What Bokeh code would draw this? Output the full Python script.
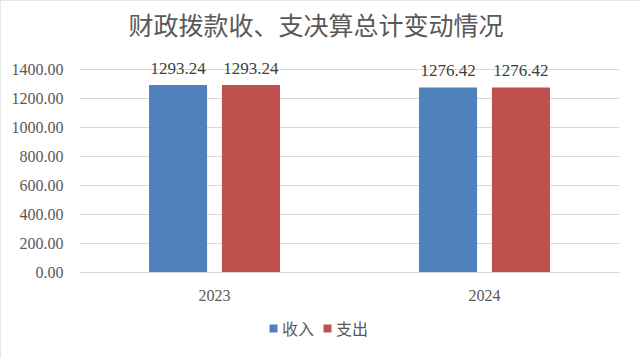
from bokeh.plotting import figure
from bokeh.models import ColumnDataSource, FactorRange, Range1d, NumeralTickFormatter, Legend, LegendItem, LabelSet, Title
from bokeh.transform import dodge
from bokeh.embed import file_html
from bokeh.resources import INLINE

years = ["2023", "2024"]
income = [1293.24, 1276.42]
expense = [1293.24, 1276.42]
series_names = ["收入", "支出"]
y_ticks = [0, 200, 400, 600, 800, 1000, 1200, 1400]

SERIF = "'Liberation Serif', 'Times New Roman', serif"
SANS = "'Noto Sans CJK SC', sans-serif"

src = ColumnDataSource(dict(
    x=years, inc=income, exp=expense,
    inc_lbl=["%.2f" % v for v in income],
    exp_lbl=["%.2f" % v for v in expense],
))

# 0 at y=272, 1400 at y=69 -> 0.145 px/unit; frame spans y=40..350 so labels/legend fit
p = figure(width=640, height=358, x_range=FactorRange(*years, range_padding=0),
           y_range=Range1d(-538, 1600), output_backend="svg", toolbar_location=None,
           min_border_left=79, min_border_right=21, min_border_top=40, min_border_bottom=8,
           background_fill_color="white", border_fill_color="white",
           outline_line_color=None)
p.styles = {"outline": "2px solid #dedede", "outline-offset": "-2px"}

p.title = Title(text="财政拨款收、支决算总计变动情况", align="left",
                text_font=SANS, text_font_size="25px",
                text_font_style="normal", text_color="#595959", offset=49, standoff=-3)

r1 = p.vbar(x=dodge("x", -0.135, range=p.x_range), top="inc", width=0.215, source=src,
            fill_color="#4F81BD", line_color=None)
r2 = p.vbar(x=dodge("x", 0.135, range=p.x_range), top="exp", width=0.215, source=src,
            fill_color="#C0504D", line_color=None)

for col, off in (("inc", -0.135), ("exp", 0.135)):
    p.add_layout(LabelSet(x=dodge("x", off, range=p.x_range), y=col, text=col + "_lbl",
                          source=src, text_align="center", y_offset=11,
                          text_font=SERIF, text_font_size="17px",
                          text_color="#404040"))

p.yaxis.ticker = y_ticks
p.yaxis.formatter = NumeralTickFormatter(format="0.00")
p.yaxis.axis_line_color = None
p.yaxis.major_tick_line_color = None
p.yaxis.minor_tick_line_color = None
p.yaxis.major_label_text_font = SERIF
p.yaxis.major_label_text_font_size = "16px"
p.yaxis.major_label_text_color = "#595959"
p.yaxis.major_label_standoff = 10

p.xaxis.fixed_location = 0
p.xaxis.axis_line_color = "#d9d9d9"
p.xaxis.major_tick_line_color = None
p.xaxis.minor_tick_line_color = None
p.xaxis.major_label_text_font = SERIF
p.xaxis.major_label_text_font_size = "16px"
p.xaxis.major_label_text_color = "#595959"
p.xaxis.major_label_standoff = 12

p.xgrid.grid_line_color = None
p.ygrid.grid_line_color = "#d9d9d9"

legend = Legend(items=[LegendItem(label=series_names[0], renderers=[r1]),
                       LegendItem(label=series_names[1], renderers=[r2])],
                orientation="horizontal", location=(189, 10),
                label_text_font=SANS, label_text_font_size="16px",
                label_text_color="#595959", glyph_width=10, glyph_height=10,
                label_standoff=4, spacing=8, padding=0, margin=0,
                border_line_color=None, background_fill_alpha=0)
p.add_layout(legend, "center")

open("out.html", "w").write(file_html(p, INLINE))
